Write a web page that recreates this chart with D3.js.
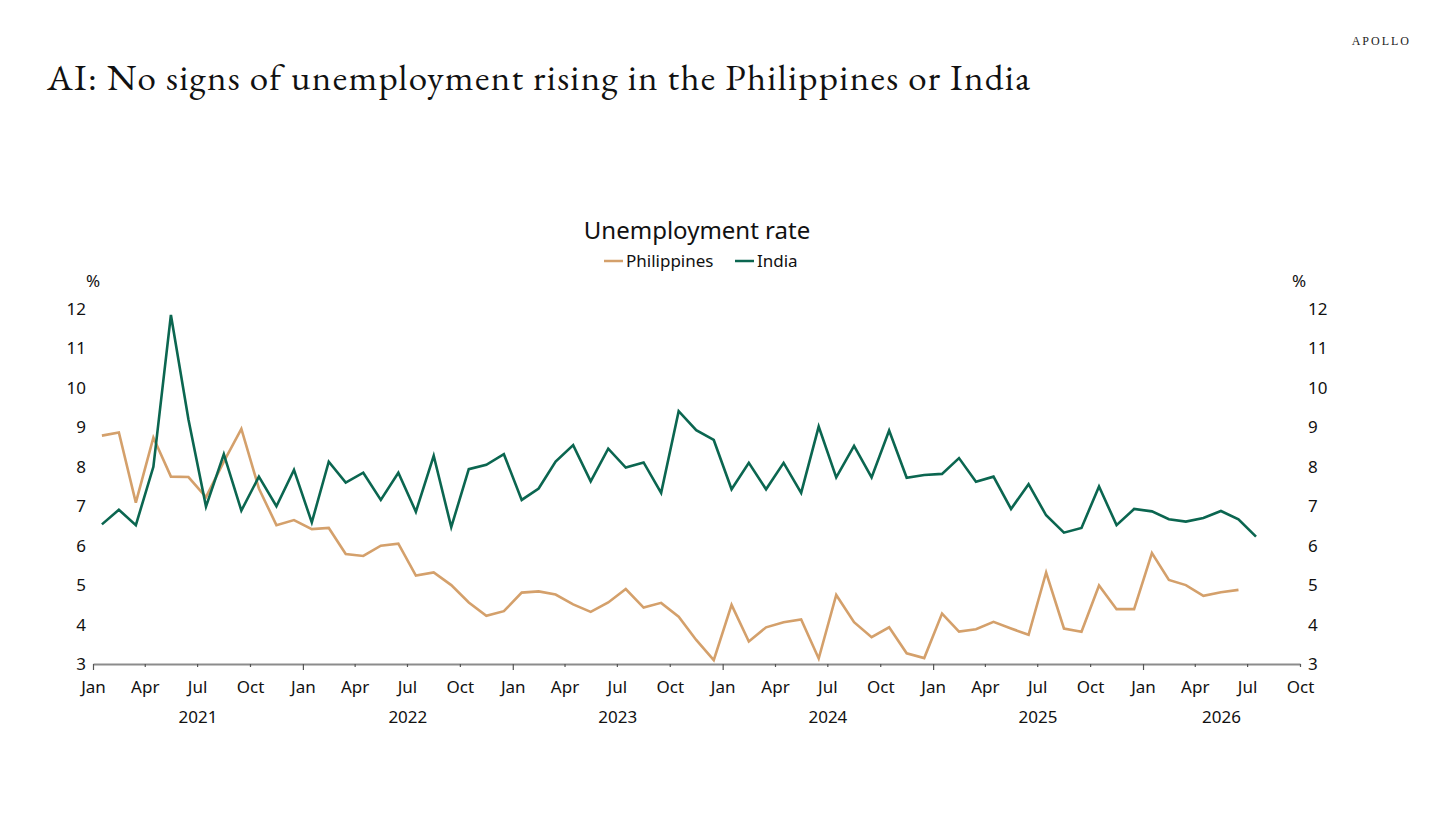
<!DOCTYPE html>
<html>
<head>
<meta charset="utf-8">
<script src="https://cdn.jsdelivr.net/npm/d3@7"></script>
<style>
  body { margin: 0; background: #fff; }
  svg { display: block; }
</style>
</head>
<body>
<svg id="chart"></svg>
<script>
// monthly unemployment rate, %, starting Jan 2021
const startMonth = "2021-01";
const philippines = [8.79, 8.87, 7.09, 8.74, 7.75, 7.74, 7.23, 8.13, 8.96, 7.45, 6.52, 6.65,
  6.42, 6.45, 5.79, 5.74, 6.0, 6.05, 5.24, 5.32, 5.0, 4.56, 4.22, 4.34,
  4.81, 4.84, 4.76, 4.51, 4.32, 4.56, 4.90, 4.43, 4.55, 4.2, 3.61, 3.1,
  4.50, 3.57, 3.93, 4.06, 4.13, 3.14, 4.75, 4.06, 3.68, 3.93, 3.27, 3.15,
  4.28, 3.82, 3.88, 4.07, 3.90, 3.74, 5.32, 3.90, 3.82, 4.99, 4.39, 4.39,
  5.81, 5.13, 5.0, 4.73, 4.82, 4.88];
const india = [6.54, 6.91, 6.52, 8.0, 11.85, 9.2, 6.99, 8.32, 6.89, 7.75, 7.0, 7.92,
  6.59, 8.13, 7.60, 7.85, 7.16, 7.85, 6.86, 8.28, 6.47, 7.94, 8.05, 8.32,
  7.16, 7.45, 8.13, 8.55, 7.63, 8.46, 7.98, 8.11, 7.34, 9.41, 8.93, 8.68,
  7.43, 8.10, 7.43, 8.10, 7.34, 9.02, 7.73, 8.53, 7.73, 8.92, 7.72, 7.79,
  7.82, 8.22, 7.62, 7.75, 6.93, 7.56, 6.77, 6.33, 6.45, 7.50, 6.52, 6.93,
  6.87, 6.67, 6.61, 6.70, 6.88, 6.67, 6.23];
const seriesNames = ["Philippines", "India"];
const seriesColors = ["#d4a06b", "#0b6650"];
const yTicks = [3, 4, 5, 6, 7, 8, 9, 10, 11, 12];
const years = [2021, 2022, 2023, 2024, 2025, 2026];

const width = 1456, height = 819;
const margin = {left: 93, right: 156, top: 309, bottom: 155};
const svg = d3.select("#chart").attr("width", width).attr("height", height);

const parseMonth = d3.timeParse("%Y-%m");
const t0 = parseMonth(startMonth);
const tEnd = new Date(2026, 9, 1);

const x = d3.scaleTime().domain([t0, tEnd]).range([margin.left, width - margin.right]);
const y = d3.scaleLinear().domain([3, 12]).range([height - margin.bottom, margin.top]);

// points sit mid-month
function midMonth(i) {
  const a = d3.timeMonth.offset(t0, i), b = d3.timeMonth.offset(t0, i + 1);
  return new Date((a.getTime() + b.getTime()) / 2);
}

const font = "'Segoe UI', 'Noto Sans', 'Open Sans', sans-serif";

// title
svg.append("text")
  .attr("x", 47).attr("y", 90)
  .attr("textLength", 983)
  .attr("lengthAdjust", "spacing")
  .style("font-family", "'EB Garamond', Garamond, 'Liberation Serif', serif")
  .style("font-size", "37px")
  .style("fill", "#111")
  .text("AI: No signs of unemployment rising in the Philippines or India");

svg.append("text")
  .attr("x", 1411).attr("y", 45)
  .attr("text-anchor", "end")
  .style("font-family", "'Liberation Serif', serif")
  .style("font-size", "12px")
  .style("letter-spacing", "2px")
  .style("fill", "#222")
  .text("APOLLO");

svg.append("text")
  .attr("x", 697).attr("y", 239)
  .attr("text-anchor", "middle")
  .style("font-family", font)
  .style("font-size", "24px")
  .style("fill", "#111")
  .text("Unemployment rate");

// legend
const legend = svg.append("g").style("font-family", font).style("font-size", "17px");
const legendX = [604, 735];
seriesNames.forEach((name, i) => {
  legend.append("line")
    .attr("x1", legendX[i]).attr("x2", legendX[i] + 19)
    .attr("y1", 261).attr("y2", 261)
    .attr("stroke", seriesColors[i]).attr("stroke-width", 2.5);
  legend.append("text")
    .attr("x", legendX[i] + 22).attr("y", 267)
    .style("fill", "#111")
    .text(name);
});

// y axes labels (left and right)
const axisG = svg.append("g").style("font-family", font).style("font-size", "17px").style("fill", "#111");
axisG.selectAll(".yl").data(yTicks).enter().append("text")
  .attr("x", 86).attr("y", d => y(d) + 6)
  .attr("text-anchor", "end")
  .text(d => d);
axisG.selectAll(".yr").data(yTicks).enter().append("text")
  .attr("x", 1308).attr("y", d => y(d) + 6)
  .attr("text-anchor", "start")
  .text(d => d);
axisG.append("text").attr("x", 93).attr("y", 287).attr("text-anchor", "middle").text("%");
axisG.append("text").attr("x", 1299).attr("y", 287).attr("text-anchor", "middle").text("%");

// x axis
const quarters = d3.timeMonth.every(3).range(t0, d3.timeDay.offset(tEnd, 1));
const xAxis = d3.axisBottom(x)
  .tickValues(quarters)
  .tickSize(0)
  .tickPadding(17)
  .tickFormat(d3.timeFormat("%b"));
const xg = svg.append("g")
  .attr("transform", `translate(0,${y(3)})`)
  .call(xAxis);
xg.select(".domain").attr("stroke", "#8c8c8c").attr("stroke-width", 2);
xg.selectAll(".tick line").remove();
xg.selectAll(".tick").append("line")
  .attr("y1", 0)
  .attr("y2", d => d.getMonth() === 0 ? 6 : 3)
  .attr("stroke", "#555").attr("stroke-width", 1.2);
xg.selectAll(".tick text")
  .style("font-family", font).style("font-size", "17px").style("fill", "#111");

// year labels centred on the visible part of each year
svg.append("g").selectAll("text").data(years).enter().append("text")
  .attr("x", d => {
    const a = new Date(d, 0, 1), b = d3.min([new Date(d + 1, 0, 1), tEnd]);
    return (x(a) + x(b)) / 2;
  })
  .attr("y", 723)
  .attr("text-anchor", "middle")
  .style("font-family", font).style("font-size", "17px").style("fill", "#111")
  .text(d => d);

// lines
const line = d3.line().x((d, i) => x(midMonth(i))).y(d => y(d));
[philippines, india].forEach((vals, i) => {
  svg.append("path")
    .datum(vals)
    .attr("fill", "none")
    .attr("stroke", seriesColors[i])
    .attr("stroke-width", 2.6)
    .attr("stroke-linejoin", "miter")
    .attr("d", line);
});
</script>
</body>
</html>
